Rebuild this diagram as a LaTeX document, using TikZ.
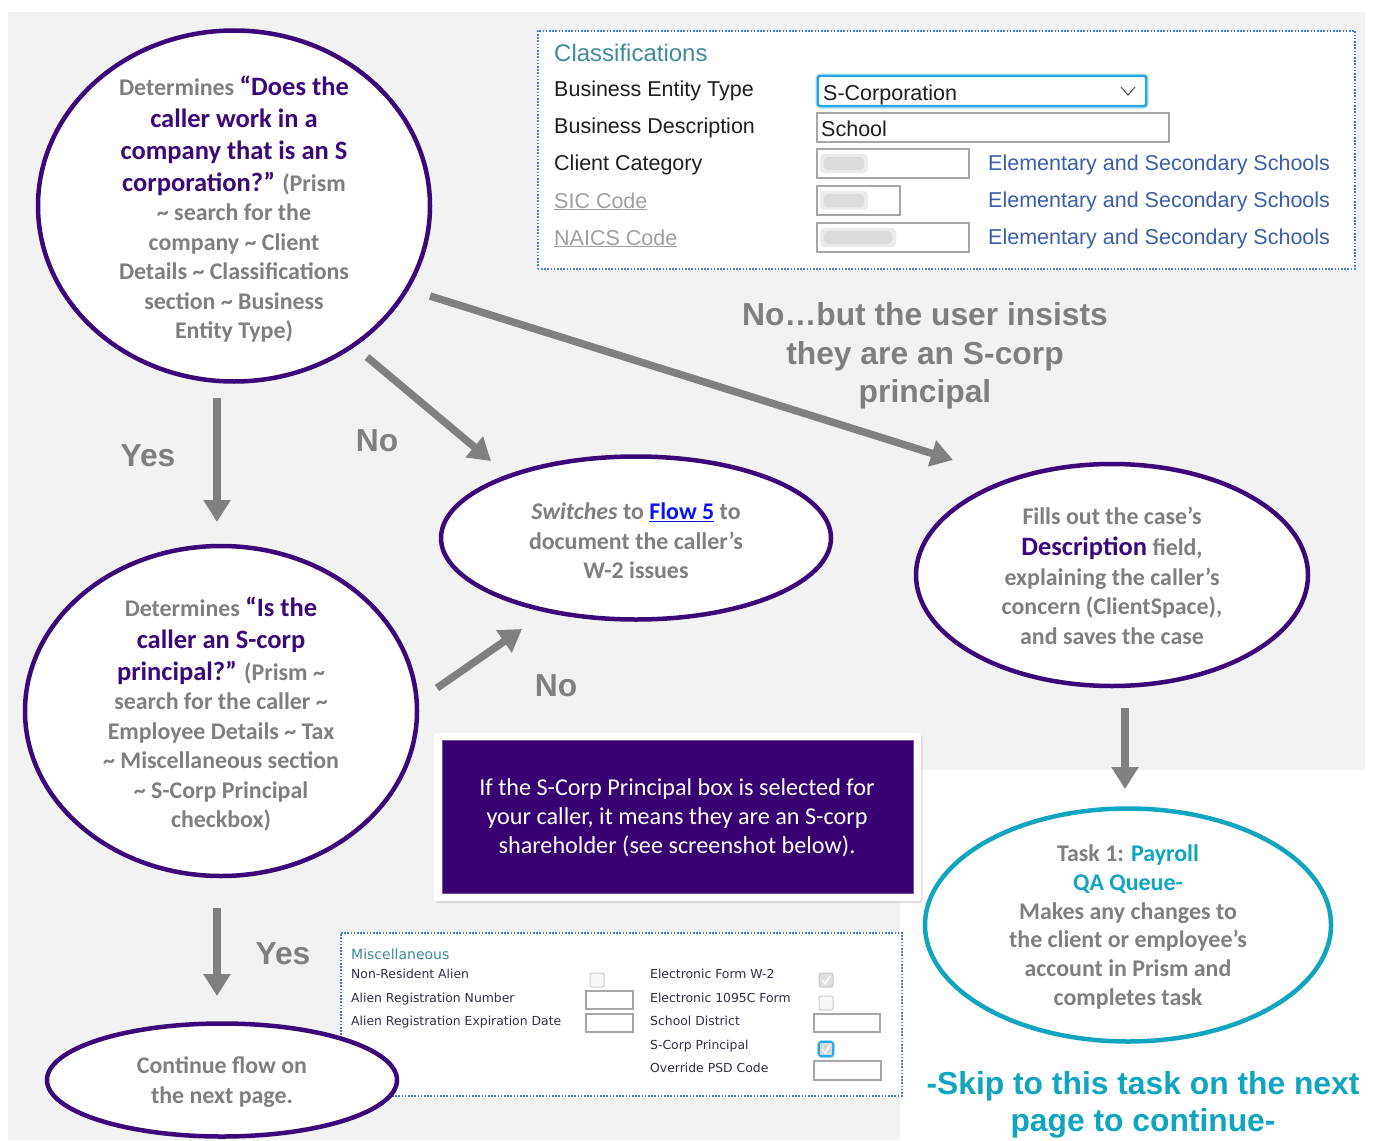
\documentclass[tikz,border=0pt]{standalone}
\usepackage{fontspec}
\setmainfont{Carlito}
\newfontfamily\arialf{Liberation Sans}
\newfontfamily\uif{Liberation Sans}
\newfontfamily\uiv{DejaVu Sans}
\usetikzlibrary{shapes.geometric,arrows.meta,shadows,calc}

\definecolor{purp}{HTML}{3A0878}
\definecolor{boxpurp}{HTML}{390072}
\definecolor{txtgray}{HTML}{7F7F7F}
\definecolor{tealc}{HTML}{0FA5BE}
\definecolor{linkblue}{HTML}{0A14F0}
\definecolor{bggray}{HTML}{F2F2F2}
\definecolor{arrgray}{HTML}{808080}
\definecolor{dotblue}{HTML}{4A7FC8}
\definecolor{uitext}{HTML}{1F1F1F}
\definecolor{clsteal}{HTML}{3F8C95}
\definecolor{elemblue}{HTML}{3C5DAA}
\definecolor{fieldgray}{HTML}{A6A6A6}
\definecolor{sicgray}{HTML}{A0A0A0}
\definecolor{misctext}{HTML}{2E3047}
\definecolor{selblue}{HTML}{29A8E0}

\newcommand\tld{\textasciitilde}
\newcommand\pq[1]{{\color{purp}\fontsize{26.5}{29.5}\selectfont #1}}
\newcommand\tq[1]{{\color{tealc}#1}}

\tikzset{
  bubble/.style={ellipse, draw=purp, line width=4.5pt, fill=white, inner sep=0pt},
  taskbubble/.style={bubble, draw=tealc},
  flowarrow/.style={draw=arrgray, line width=7.5pt, -{Triangle[width=26pt,length=22pt]}},
  bodytext/.style={align=center, text=txtgray, inner sep=0pt,
    font=\bfseries\fontsize{23.9}{29.5}\selectfont},
  bigword/.style={align=center, text=txtgray, inner sep=0pt,
    font=\arialf\bfseries\fontsize{31.8}{38.5}\selectfont},
  panel/.style={draw=dotblue, line width=1.6pt, dash pattern=on 1.6pt off 1.6pt,
    fill=white, inner sep=0pt, anchor=north west},
  uilabel/.style={anchor=base west, inner sep=0pt, text=uitext,
    font=\uif\fontsize{21.5}{24}\selectfont},
  field/.style={draw=fieldgray, line width=1.2pt, fill=white},
  misclabel/.style={anchor=base west, inner sep=0pt, text=misctext,
    font=\uiv\fontsize{12.4}{14}\selectfont},
  tick/.style={draw=white, line width=1.3pt, line cap=round, line join=round},
  smear/.style={fill=black!35, opacity=.22, rounded corners=4pt},
}

\begin{document}
\begin{tikzpicture}[x=1pt, y=-1pt]
\useasboundingbox (0,0) rectangle (1375,1140);

% page background
\fill[white] (0,0) rectangle (1375,1140);
\fill[bggray] (8,12) -- (1365,12) -- (1365,770) -- (900,770) -- (900,1140)
  -- (8,1140) -- cycle;

% ---------- Classifications screenshot ----------
\node[panel, minimum width=817pt, minimum height=238pt] (cls) at (537,30) {};
\node[anchor=base west, inner sep=0pt, text=clsteal,
      font=\uif\fontsize{24}{26}\selectfont] (clsT) at (554,62) {Classifications};
\node[uilabel] (l1) at (554,96) {Business Entity Type};
\node[uilabel] (l2) at (554,133) {Business Description};
\node[uilabel] (l3) at (554,170) {Client Category};
\node[uilabel, text=sicgray] (l4) at (554,208) {\underline{SIC Code}};
\node[uilabel, text=sicgray] (l5) at (554,245) {\underline{NAICS Code}};

% entity type drop-down
\draw[selblue!45, line width=5pt, rounded corners=3pt] (818,76) rectangle (1146,106);
\draw[selblue, line width=2.4pt, fill=white, rounded corners=2pt] (818,76) rectangle (1146,106);
\node[uilabel] (v1) at (823,100) {S-Corporation};
\draw[uitext!80, line width=1pt] (1121,87) -- (1128,95) -- (1135,87);

% text fields
\draw[field] (817,113) rectangle (1169,142);
\node[uilabel] (v2) at (821,136) {School};
\draw[field] (817,149) rectangle (969,178);
\draw[field] (817,186) rectangle (900,215);
\draw[field] (817,223) rectangle (969,252);
% obscured codes
\fill[smear] (820,154) rectangle (868,173);
\fill[smear] (824,157) rectangle (864,170);
\fill[smear] (820,191) rectangle (868,210);
\fill[smear] (824,194) rectangle (864,207);
\fill[smear] (820,228) rectangle (896,247);
\fill[smear] (824,231) rectangle (892,244);

\node[uilabel, text=elemblue] (c1) at (988,170) {Elementary and Secondary Schools};
\node[uilabel, text=elemblue] (c2) at (988,207) {Elementary and Secondary Schools};
\node[uilabel, text=elemblue] (c3) at (988,244) {Elementary and Secondary Schools};

% ---------- Miscellaneous screenshot ----------
\node[panel, minimum width=561pt, minimum height=163pt] (misc) at (340,932) {};
\node[anchor=base west, inner sep=0pt, text=clsteal,
      font=\uiv\fontsize{14}{16}\selectfont] (miscT) at (351,959) {Miscellaneous};
\node[misclabel] (m1) at (351,978) {Non-Resident Alien};
\node[misclabel] (m2) at (351,1002) {Alien Registration Number};
\node[misclabel] (m3) at (351,1025) {Alien Registration Expiration Date};
\node[misclabel] (m4) at (650,978) {Electronic Form W-2};
\node[misclabel] (m5) at (650,1002) {Electronic 1095C Form};
\node[misclabel] (m6) at (650,1025) {School District};
\node[misclabel] (m7) at (650,1049) {S-Corp Principal};
\node[misclabel] (m8) at (650,1072) {Override PSD Code};

\draw[black!20, fill=black!3, line width=1pt, rounded corners=2pt] (590,973) rectangle (604,987);
\draw[field] (586,991) rectangle (633,1009);
\draw[field] (586,1014) rectangle (633,1032);

\draw[black!22, fill=black!12, line width=1pt, rounded corners=2pt] (819,973) rectangle (833,987);
\draw[tick] (822,980) -- (825,984) -- (830,976);
\draw[black!20, fill=black!3, line width=1pt, rounded corners=2pt] (819,996) rectangle (833,1010);
\draw[field] (814,1014) rectangle (880,1032);
\draw[selblue!45, line width=4pt, rounded corners=3pt] (819,1042) rectangle (833,1056);
\draw[selblue, fill=black!15, line width=1.6pt, rounded corners=2pt] (819,1042) rectangle (833,1056);
\draw[tick] (822,1049) -- (825,1053) -- (830,1045);
\draw[field] (814,1061) rectangle (881,1080);

% ---------- note box ----------
\node[draw=none, fill=white, rounded corners=3pt, drop shadow={opacity=.25, shadow xshift=1.5pt, shadow yshift=-2pt},
      minimum width=487pt, minimum height=168pt, anchor=north west, inner sep=0pt] (noteF) at (434,733) {};
\node[fill=boxpurp, draw=purp!70, line width=.6pt, minimum width=471pt, minimum height=153pt,
      inner sep=0pt] (note) at (noteF.center) {};
\node[align=center, text=white, inner sep=0pt, font=\fontsize{24.2}{29}\selectfont]
  (noteT) at (677,818) {If the S-Corp Principal box is selected for\\
  your caller, it means they are an S-corp\\ shareholder (see screenshot below).};

% ---------- decision and step bubbles ----------
\node[bubble, minimum width=392pt, minimum height=351pt] (q1) at (234,206) {};
\node[bubble, minimum width=392pt, minimum height=330pt] (q2) at (221,711) {};
\node[bubble, minimum width=350pt, minimum height=113pt] (cont) at (222,1080) {};
\node[bubble, minimum width=390pt, minimum height=163pt] (flow) at (636,538) {};
\node[bubble, minimum width=392pt, minimum height=222pt] (desc) at (1112,575) {};
\node[taskbubble, minimum width=406pt, minimum height=233pt] (task) at (1128,925) {};

\node[bodytext] (q1T) at (234,209) {Determines \pq{“Does the}\\[2.5pt]
  \pq{caller work in a}\\[2.5pt]
  \pq{company that is an S}\\[2.5pt]
  \pq{corporation?”} (Prism\\
  \tld{} search for the\\
  company \tld{} Client\\
  Details \tld{} Classifications\\
  section \tld{} Business\\
  Entity Type)};

\node[bodytext] (q2T) at (221,714) {Determines \pq{“Is the}\\[2.5pt]
  \pq{caller an S-corp}\\[2.5pt]
  \pq{principal?”} (Prism \tld\\
  search for the caller \tld\\
  Employee Details \tld{} Tax\\
  \tld{} Miscellaneous section\\
  \tld{} S-Corp Principal\\
  checkbox)};

\node[bodytext] (contT) at (222,1082) {Continue flow on\\ the next page.};

\node[bodytext] (flowT) at (636,541) {\textit{Switches} to {\color{linkblue}\underline{Flow 5}} to\\
  document the caller’s\\ W-2 issues};

\node[bodytext] (descT) at (1112,576) {Fills out the case’s\\[1.5pt]
  \pq{Description} field,\\ explaining the caller’s\\ concern (ClientSpace),\\ and saves the case};

\node[bodytext, font=\bfseries\fontsize{23.9}{28.8}\selectfont] (taskT) at (1128,927)
  {Task 1: \tq{Payroll}\\ \tq{QA Queue-}\\ Makes any changes to\\
  the client or employee’s\\ account in Prism and\\ completes task};

% ---------- connectors ----------
\coordinate (aYs) at (217,398);  \coordinate (aYe) at (217,522);
\coordinate (aNs) at (367,357);  \coordinate (aNe) at (491,461);
\coordinate (aLs) at (430,296);  \coordinate (aLe) at (953,460);
\coordinate (bNs) at (437,688);  \coordinate (bNe) at (522,629);
\coordinate (bYs) at (217,908);  \coordinate (bYe) at (217,996);
\coordinate (cDs) at (1125,708); \coordinate (cDe) at (1125,789);

\draw[flowarrow] (aYs) -- (aYe);
\draw[flowarrow] (aNs) -- (aNe);
\draw[flowarrow] (aLs) -- (aLe);
\draw[flowarrow] (bNs) -- (bNe);
\draw[flowarrow] (bYs) -- (bYe);
\draw[flowarrow] (cDs) -- (cDe);

% ---------- connector labels ----------
\node[bigword] (yes1) at (148,456) {Yes};
\node[bigword] (no1) at (377,441) {No};
\node[bigword] (insist) at (925,356) {No…but the user insists\\ they are an S-corp\\ principal};
\node[bigword] (no2) at (556,686) {No};
\node[bigword] (yes2) at (283,954) {Yes};

\node[bigword, text=tealc, font=\arialf\bfseries\fontsize{31.8}{37}\selectfont]
  (skip) at (1143,1105) {-Skip to this task on the next\\ page to continue-};
\end{tikzpicture}
\end{document}
